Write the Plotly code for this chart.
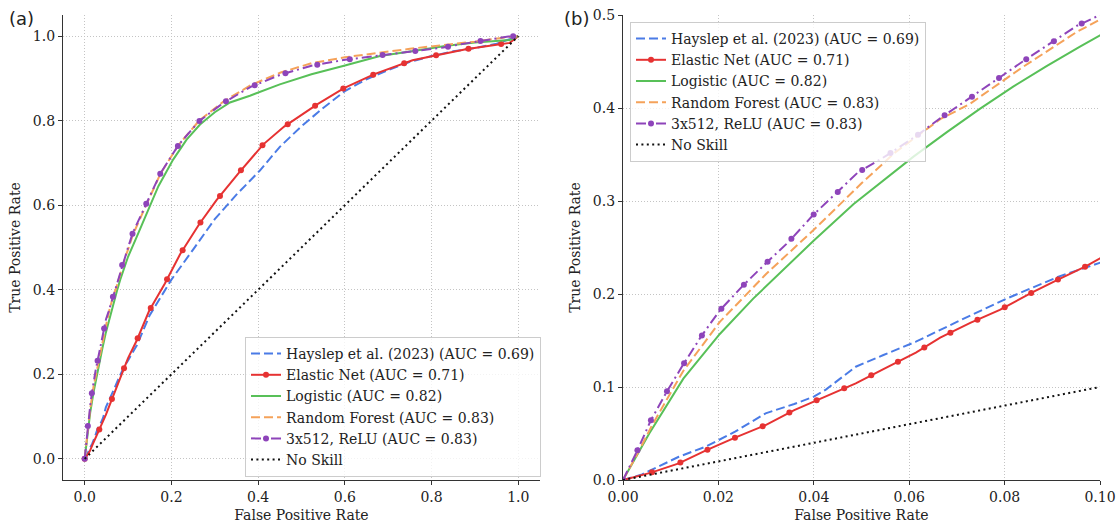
import numpy as np
import plotly.graph_objects as go

# ---------------------------------------------------------------------------
# ROC curves: false positive rate / true positive rate per model
# ---------------------------------------------------------------------------
hayslep_fpr = [0, 0.004, 0.0117, 0.0174, 0.0235, 0.0299, 0.0359, 0.040, 0.0426, 0.0488,
               0.0546, 0.0614, 0.070, 0.0804, 0.0913, 0.100, 0.12, 0.15, 0.20, 0.25,
               0.30, 0.35, 0.404, 0.45, 0.50, 0.55, 0.60, 0.65, 0.70, 0.75, 0.80, 0.85,
               0.90, 0.95, 1.0]
hayslep_tpr = [0, 0.006, 0.025, 0.036, 0.052, 0.0717, 0.0817, 0.0896, 0.0975, 0.1218,
               0.1344, 0.1487, 0.170, 0.195, 0.2186, 0.233, 0.268, 0.340, 0.424, 0.495,
               0.567, 0.625, 0.682, 0.738, 0.787, 0.830, 0.870, 0.898, 0.920, 0.939, 0.953, 0.964,
               0.972, 0.982, 1.0]

enet_fpr = [0, 0.0059, 0.0117, 0.0174, 0.0235, 0.0299, 0.0359, 0.0426, 0.0488, 0.0546,
            0.0614, 0.0665, 0.0728, 0.079, 0.0857, 0.0913, 0.0971, 0.100, 0.120, 0.149,
            0.185, 0.220, 0.264, 0.304, 0.354, 0.412, 0.460, 0.537, 0.598, 0.668, 0.756,
            0.812, 0.879, 0.946, 0.980, 1.0]
enet_tpr = [0, 0.0079, 0.0179, 0.0319, 0.0455, 0.0591, 0.0752, 0.0903, 0.1039, 0.1193,
            0.137, 0.153, 0.169, 0.183, 0.2014, 0.2158, 0.230, 0.2384, 0.280, 0.351,
            0.415, 0.484, 0.555, 0.612, 0.675, 0.744, 0.786, 0.839, 0.877, 0.910, 0.943,
            0.955, 0.969, 0.979, 0.984, 1.0]

logit_fpr = [0, 0.0055, 0.01265, 0.0203, 0.0273, 0.0343, 0.0399, 0.0483, 0.0553, 0.0609,
             0.0679, 0.0748, 0.0818, 0.0888, 0.0958, 0.100, 0.120, 0.143, 0.170, 0.204,
             0.235, 0.266, 0.300, 0.335, 0.381, 0.450, 0.523, 0.598, 0.681, 0.758, 0.835,
             0.900, 0.980, 1.0]
logit_tpr = [0, 0.050, 0.109, 0.157, 0.195, 0.229, 0.257, 0.2965, 0.3244, 0.3477,
             0.374, 0.399, 0.423, 0.445, 0.466, 0.478, 0.525, 0.582, 0.645, 0.708,
             0.755, 0.791, 0.820, 0.843, 0.859, 0.886, 0.910, 0.930, 0.953, 0.965, 0.977,
             0.985, 0.991, 1.0]

rf_fpr = [0, 0.003, 0.006, 0.0126, 0.0203, 0.030, 0.040, 0.050, 0.057, 0.0665, 0.0726,
          0.0838, 0.0952, 0.100, 0.111, 0.143, 0.175, 0.216, 0.264, 0.321, 0.383, 0.452,
          0.523, 0.600, 0.670, 0.750, 0.827, 0.900, 0.977, 1.0]
rf_tpr = [0, 0.028, 0.058, 0.117, 0.170, 0.2215, 0.269, 0.319, 0.352, 0.388, 0.404,
          0.444, 0.482, 0.495, 0.530, 0.603, 0.675, 0.742, 0.800, 0.846, 0.884, 0.914,
          0.936, 0.950, 0.960, 0.970, 0.979, 0.987, 0.998, 1.0]

mlp_fpr = [0, 0.0029, 0.0058, 0.0091, 0.0126, 0.0164, 0.0203, 0.0252, 0.0298, 0.0347,
           0.0398, 0.0448, 0.0492, 0.0553, 0.0615, 0.0665, 0.0726, 0.0776, 0.0838, 0.0892,
           0.0952, 0.100, 0.111, 0.143, 0.175, 0.216, 0.264, 0.321, 0.383, 0.452, 0.523,
           0.600, 0.670, 0.750, 0.827, 0.862, 0.977, 1.0]
mlp_tpr = [0, 0.0305, 0.0638, 0.0943, 0.124, 0.1545, 0.1824, 0.2093, 0.2323, 0.2559,
           0.2846, 0.3086, 0.3305, 0.3490, 0.370, 0.389, 0.410, 0.428, 0.450, 0.468,
           0.4885, 0.500, 0.535, 0.606, 0.676, 0.742, 0.799, 0.843, 0.880, 0.909, 0.930,
           0.944, 0.953, 0.963, 0.973, 0.980, 0.999, 1.0]

chance_fpr = [0, 1]
chance_tpr = [0, 1]

labels = ["Hayslep et al. (2023) (AUC = 0.69)", "Elastic Net (AUC = 0.71)",
          "Logistic (AUC = 0.82)", "Random Forest (AUC = 0.83)",
          "3x512, ReLU (AUC = 0.83)", "No Skill"]

# ---------------------------------------------------------------------------
# Styling
# ---------------------------------------------------------------------------
series = [
    dict(x=hayslep_fpr, y=hayslep_tpr, color="#4a7be6", dash="9px,4px", markers=False),
    dict(x=enet_fpr, y=enet_tpr, color="#e63232", dash="solid", markers=True),
    dict(x=logit_fpr, y=logit_tpr, color="#58c058", dash="solid", markers=False),
    dict(x=rf_fpr, y=rf_tpr, color="#f5a25a", dash="9px,4px", markers=False),
    dict(x=mlp_fpr, y=mlp_tpr, color="#8e44ba", dash="10px,4px,2px,4px", markers=True),
    dict(x=chance_fpr, y=chance_tpr, color="#111111", dash="2px,3.4px", markers=False),
]

W, H = 1120, 525
M_L, M_R, M_T, M_B = 63, 20, 15, 45
PLOT_W = W - M_L - M_R
PLOT_H = H - M_T - M_B
AX_W = 477

panels = [
    dict(xaxis="x", yaxis="y", legend="legend", xr=[-0.05, 1.05], yr=[-0.05, 1.05],
         step={1: 33.0, 4: 33.0}),
    dict(xaxis="x2", yaxis="y2", legend="legend2", xr=[0.0, 0.1], yr=[0.0, 0.5],
         step={1: 30.0, 4: 33.0}),
]

SERIF = "DejaVu Serif"
TXT = "#222222"
FS = 14


def markers_along(xs, ys, xr, yr, step_px):
    """Place markers at equal on-screen spacing along a curve."""
    x = np.asarray(xs, float)
    y = np.asarray(ys, float)
    px = (x - xr[0]) / (xr[1] - xr[0]) * AX_W
    py = (y - yr[0]) / (yr[1] - yr[0]) * PLOT_H
    cum = np.concatenate([[0.0], np.cumsum(np.hypot(np.diff(px), np.diff(py)))])
    targets = np.arange(0.0, cum[-1] + 1e-9, step_px)
    return np.interp(targets, cum, x), np.interp(targets, cum, y)


fig = go.Figure()

for p in panels:
    for i, s in enumerate(series):
        fig.add_trace(go.Scatter(
            x=s["x"], y=s["y"], mode="lines", xaxis=p["xaxis"], yaxis=p["yaxis"],
            line=dict(color=s["color"], width=2, dash=s["dash"]),
            showlegend=False, hoverinfo="skip"))
        if s["markers"]:
            mx, my = markers_along(s["x"], s["y"], p["xr"], p["yr"], p["step"][i])
            fig.add_trace(go.Scatter(
                x=mx, y=my, mode="markers", xaxis=p["xaxis"], yaxis=p["yaxis"],
                marker=dict(color=s["color"], size=6, line=dict(width=0)),
                showlegend=False, hoverinfo="skip"))
    # legend entries
    for i, s in enumerate(series):
        fig.add_trace(go.Scatter(
            x=[None], y=[None], mode="lines+markers" if s["markers"] else "lines",
            xaxis=p["xaxis"], yaxis=p["yaxis"], name=labels[i], legend=p["legend"],
            line=dict(color=s["color"], width=2, dash=s["dash"]),
            marker=dict(color=s["color"], size=6)))

axis_common = dict(
    showline=True, linecolor="#333333", linewidth=1.2, mirror=False,
    ticks="outside", ticklen=4, tickwidth=1, tickcolor="#333333",
    showgrid=True, gridcolor="#c4c4c4", gridwidth=1, griddash="1px,2px",
    zeroline=False, automargin=False, tickfont=dict(family=SERIF, size=FS, color=TXT),
)
xtitle = dict(text="False Positive Rate", font=dict(family=SERIF, size=FS, color=TXT), standoff=6)
ytitle = dict(text="True Positive Rate", font=dict(family=SERIF, size=FS, color=TXT), standoff=8)

dom_a = [0, AX_W / PLOT_W]
dom_b = [1 - AX_W / PLOT_W, 1]

legend_common = dict(
    bgcolor="rgba(255,255,255,0.8)", bordercolor="#cccccc", borderwidth=1,
    font=dict(family=SERIF, size=FS, color=TXT), traceorder="normal",
    tracegroupgap=0, itemclick=False, itemdoubleclick=False,
)

fig.update_layout(
    width=W, height=H,
    margin=dict(l=M_L, r=M_R, t=M_T, b=M_B, autoexpand=False),
    paper_bgcolor="white", plot_bgcolor="white",
    xaxis=dict(domain=dom_a, anchor="y", range=[-0.05, 1.05],
               tickvals=[0, 0.2, 0.4, 0.6, 0.8, 1.0], ticktext=["0.0", "0.2", "0.4", "0.6", "0.8", "1.0"],
               title=xtitle, **axis_common),
    yaxis=dict(domain=[0, 1], anchor="x", range=[-0.05, 1.05],
               tickvals=[0, 0.2, 0.4, 0.6, 0.8, 1.0], ticktext=["0.0", "0.2", "0.4", "0.6", "0.8", "1.0"],
               title=ytitle, **axis_common),
    xaxis2=dict(domain=dom_b, anchor="y2", range=[0, 0.1],
                tickvals=[0, 0.02, 0.04, 0.06, 0.08, 0.1],
                ticktext=["0.00", "0.02", "0.04", "0.06", "0.08", "0.10"],
                title=xtitle, **axis_common),
    yaxis2=dict(domain=[0, 1], anchor="x2", range=[0, 0.5],
                tickvals=[0, 0.1, 0.2, 0.3, 0.4, 0.5],
                ticktext=["0.0", "0.1", "0.2", "0.3", "0.4", "0.5"],
                title=ytitle, **axis_common),
    legend=dict(x=(541 - M_L) / PLOT_W, xanchor="right", y=(480 - 477) / PLOT_H, yanchor="bottom",
                **legend_common),
    legend2=dict(x=(630 - M_L) / PLOT_W, xanchor="left", y=(480 - 22) / PLOT_H, yanchor="top",
                 **legend_common),
    annotations=[
        dict(text="(a)", xref="paper", yref="paper", x=(7 - M_L) / PLOT_W, y=(480 - 18) / PLOT_H,
             xanchor="left", yanchor="middle", showarrow=False,
             font=dict(family="DejaVu Sans", size=18, color=TXT)),
        dict(text="(b)", xref="paper", yref="paper", x=(562 - M_L) / PLOT_W, y=(480 - 18) / PLOT_H,
             xanchor="left", yanchor="middle", showarrow=False,
             font=dict(family="DejaVu Sans", size=18, color=TXT)),
    ],
)

fig.write_html("out.html")
